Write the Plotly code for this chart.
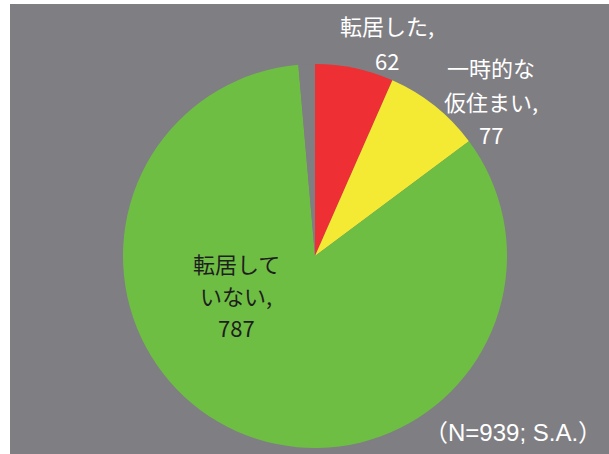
import plotly.graph_objects as go

# slices clockwise from 12 o'clock; last one is the unanswered remainder (N=939)
labels = ["転居した", "一時的な仮住まい", "転居していない", "無回答"]
values = [62, 77, 787, 13]
colors = ["#EE2F33", "#F4EA34", "#6FBE44", "#7F7E83"]

# label text as shown on the chart, one list of lines per slice
label_lines = [
    ["転居した,", "62"],
    ["一時的な", "仮住まい,", "77"],
    ["転居して", "いない,", "787"],
]
# where each label block sits (pixels in the 609x454 picture: center x, first line y, line step)
label_pos = [(387, 25, 35), (491, 67, 33.5), (236, 263, 32)]
label_color = ["white", "white", "#1e1e1e"]

W, H = 609, 454
font = "Noto Sans CJK JP, Noto Sans, sans-serif"

fig = go.Figure(go.Pie(
    labels=labels,
    values=values,
    sort=False,
    direction="clockwise",
    rotation=0,
    textinfo="none",
    hoverinfo="label+value",
    marker=dict(colors=colors, line=dict(width=0)),
    domain=dict(x=[123 / W, 507 / W], y=[6 / H, 390 / H]),
    showlegend=False,
))

annotations = []
for lines, (cx, y0, step), col in zip(label_lines, label_pos, label_color):
    for i, line in enumerate(lines):
        annotations.append(dict(
            text=line, x=cx / W, y=1 - (y0 + i * step) / H,
            xref="paper", yref="paper", xanchor="center", yanchor="middle",
            showarrow=False, font=dict(family=font, size=22, color=col),
        ))

annotations.append(dict(
    text="（N=939; S.A.）", x=604 / W, y=1 - 432 / H,
    xref="paper", yref="paper", xanchor="right", yanchor="middle",
    showarrow=False,
    font=dict(family="Liberation Sans, Noto Sans CJK JP, sans-serif", size=24, color="white"),
))

fig.update_layout(
    width=W, height=H,
    margin=dict(l=0, r=0, t=0, b=0),
    paper_bgcolor="white",
    shapes=[dict(type="rect", xref="paper", yref="paper",
                 x0=10 / W, x1=1, y0=0, y1=1 - 4 / H,
                 fillcolor="#7F7E83", line=dict(width=0), layer="below")],
    annotations=annotations,
)

# drop the browser's default page margin so the figure sits at the top-left corner
fig.write_html("out.html", config={"displayModeBar": False},
               post_script="document.body.style.margin='0px';")
